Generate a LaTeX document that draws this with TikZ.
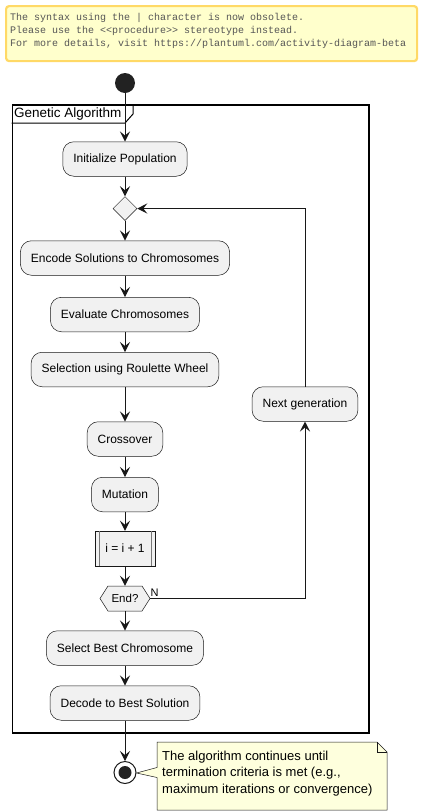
\documentclass[tikz,border=0pt]{standalone}
\usepackage{fontspec}
\setmainfont{Liberation Sans}
\setmonofont{Liberation Mono}
\usetikzlibrary{arrows.meta,shapes.geometric,calc}
\definecolor{nodefill}{HTML}{F1F1F1}
\definecolor{edge}{HTML}{181818}
\definecolor{warnfill}{HTML}{FFFFCC}
\definecolor{warnborder}{HTML}{FFD966}
\definecolor{notefill}{HTML}{FEFFDD}
\definecolor{warntext}{HTML}{555555}
\definecolor{startfill}{HTML}{222222}
\definecolor{procline}{HTML}{777777}
\begin{document}
\begin{tikzpicture}[x=1pt,y=-1pt,
  act/.style={draw=edge, line width=0.5pt, fill=nodefill, rounded corners=11pt,
    minimum height=34.5pt, inner xsep=10.5pt, font=\fontsize{12}{14}\selectfont},
  procbox/.style={draw=edge, line width=0.5pt, fill=nodefill,
    minimum height=35pt, minimum width=60pt, inner sep=0pt, font=\fontsize{12}{14}\selectfont},
  arr/.style={draw=edge, line width=1pt, -{Stealth[length=10pt,width=10pt,inset=4pt]}},
]
\useasboundingbox (0,0) rectangle (421,812);

% warning note
\node[draw=warnborder, line width=2.2pt, fill=warnfill, rounded corners=3pt,
  minimum width=411pt, minimum height=55pt, anchor=north west, inner sep=0pt] (warn) at (5,5) {};
\node[anchor=west, align=left, inner sep=0pt, text=warntext,
  font=\fontsize{10}{13}\ttfamily] (warntxt) at (10,30.5)
  {The syntax using the | character is now obsolete.\\
   Please use the <{}<procedure>{}> stereotype instead.\\
   For more details, visit https://plantuml.com/activity-diagram-beta};

% start
\node[circle, fill=startfill, minimum size=20pt, inner sep=0pt] (start) at (125,83) {};

% frame
\node[draw=black, line width=1.5pt, minimum width=356.5pt, minimum height=628pt,
  anchor=north west, inner sep=0pt] (frame) at (11.5,104) {};
\draw[black, line width=1pt] (11.5,123) -- (125,123) -- (133,114) -- (133,104);
\node[anchor=west, inner sep=0pt, font=\fontsize{13.5}{15}\selectfont] (ftitle) at (14,114) {Genetic Algorithm};

% actions
\node[act] (init) at (125,159) {Initialize Population};
\node[diamond, draw=edge, line width=0.5pt, fill=nodefill, minimum width=24pt, minimum height=24pt, inner sep=0pt] (dia) at (125,208.5) {};
\node[act] (enc) at (125,258) {Encode Solutions to Chromosomes};
\node[act] (eva) at (125,314.5) {Evaluate Chromosomes};
\node[act] (sel) at (125,369.5) {Selection using Roulette Wheel};
\node[act] (cross) at (125,439) {Crossover};
\node[act] (mut) at (125,494.5) {Mutation};
\node[procbox] (inc) at (125,548.5) {i = i + 1};
\draw[procline, line width=0.5pt] ([xshift=4pt]inc.north west) -- ([xshift=4pt]inc.south west);
\draw[procline, line width=0.5pt] ([xshift=-4pt]inc.north east) -- ([xshift=-4pt]inc.south east);
\draw[edge, line width=0.5pt, fill=nodefill] (100,598.5) -- (108,586) -- (142,586) -- (150,598.5) -- (142,611) -- (108,611) -- cycle;
\node[inner sep=0pt, minimum width=50pt, minimum height=25pt, font=\fontsize{11.5}{14}\selectfont] (endq) at (125,598.5) {End?};
\node[act] (best) at (125,648) {Select Best Chromosome};
\node[act] (dec) at (125,703) {Decode to Best Solution};
\node[act] (next) at (305,404) {Next generation};

% stop
\node[circle, draw=edge, line width=1pt, fill=white, minimum size=22pt, inner sep=0pt] (stop) at (125,772.5) {};
\fill[startfill] (stop.center) circle (6.5pt);

% connectors
\draw[arr] (start) -- (init);
\draw[arr] (init) -- (dia);
\draw[arr] (dia) -- (enc);
\draw[arr] (enc) -- (eva);
\draw[arr] (eva) -- (sel);
\draw[arr] (sel) -- (cross);
\draw[arr] (cross) -- (mut);
\draw[arr] (mut) -- (inc);
\draw[arr] (inc) -- (endq.north);
\draw[arr] (endq.south) -- (best);
\draw[arr] (best) -- (dec);
\draw[arr] (dec) -- (stop);
\draw[arr] (endq.east) -| (next.south);
\draw[arr] (next.north) |- (dia.east);
\node[anchor=south west, inner sep=0pt, font=\fontsize{11}{12}\selectfont] (nlab) at (150.5,597) {N};

% note
\draw[edge, line width=0.5pt, fill=notefill] (157,742) -- (377,742) -- (387,752) -- (387,810) -- (157,810) -- (157,777.5) -- (136.5,773) -- (157,767.5) -- cycle;
\draw[edge, line width=0.5pt] (377,742) -- (377,752) -- (387,752);
\node[anchor=west, align=left, inner sep=0pt, font=\fontsize{13}{16.5}\selectfont] (note) at (162,773.5)
  {The algorithm continues until\\termination criteria is met (e.g.,\\maximum iterations or convergence)};
\end{tikzpicture}
\end{document}
